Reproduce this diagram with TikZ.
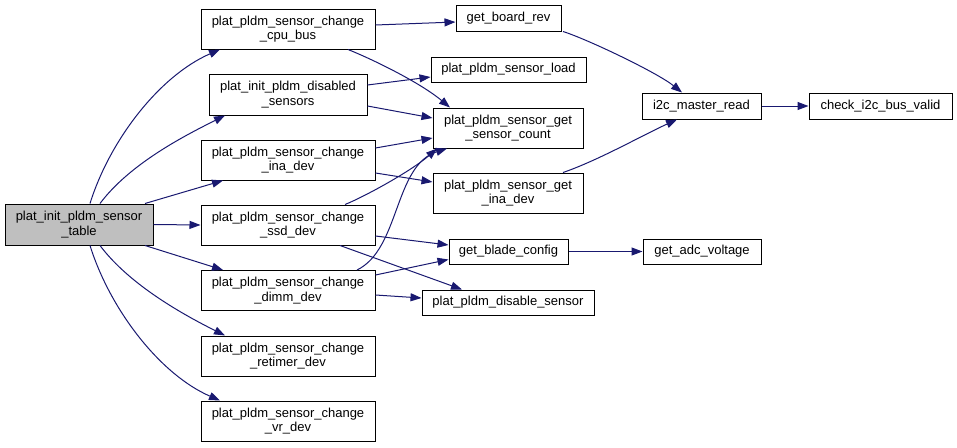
\documentclass[tikz,border=0pt]{standalone}
\usepackage{fontspec}
\setmainfont{Liberation Sans}
\usetikzlibrary{arrows.meta}
\definecolor{edgeblue}{HTML}{191970}
\definecolor{rootgray}{HTML}{BFBFBF}
\begin{document}
\begin{tikzpicture}[x=1pt,y=-1pt,
  box/.style={draw=black, line width=1pt, fill=white, inner sep=0pt, align=center,
    font=\fontsize{13}{14.5}\selectfont},
  edge/.style={draw=edgeblue, line width=1pt, -{Triangle[length=11pt,width=8pt]}}]
\useasboundingbox (0,0) rectangle (957,447);
% nodes
\node[box, fill=rootgray, minimum width=148pt, minimum height=41pt] (root) at (79,224.5) {plat\_init\_pldm\_sensor\\\_table};
\node[box, minimum width=174pt, minimum height=40pt] (cpu) at (288,29) {plat\_pldm\_sensor\_change\\\_cpu\_bus};
\node[box, minimum width=158pt, minimum height=41pt] (dis) at (288,94.5) {plat\_init\_pldm\_disabled\\\_sensors};
\node[box, minimum width=174pt, minimum height=40pt] (ina) at (288,160) {plat\_pldm\_sensor\_change\\\_ina\_dev};
\node[box, minimum width=174pt, minimum height=40pt] (ssd) at (288,225) {plat\_pldm\_sensor\_change\\\_ssd\_dev};
\node[box, minimum width=174pt, minimum height=40pt] (dimm) at (288,290.5) {plat\_pldm\_sensor\_change\\\_dimm\_dev};
\node[box, minimum width=174pt, minimum height=40pt] (ret) at (288,356) {plat\_pldm\_sensor\_change\\\_retimer\_dev};
\node[box, minimum width=174pt, minimum height=40pt] (vr) at (288,421) {plat\_pldm\_sensor\_change\\\_vr\_dev};
\node[box, minimum width=105pt, minimum height=26pt] (brev) at (508.5,18) {get\_board\_rev};
\node[box, minimum width=155pt, minimum height=25pt] (load) at (508.5,69.5) {plat\_pldm\_sensor\_load};
\node[box, minimum width=150pt, minimum height=40pt] (cnt) at (508,128) {plat\_pldm\_sensor\_get\\\_sensor\_count};
\node[box, minimum width=150pt, minimum height=40pt] (gina) at (508,193) {plat\_pldm\_sensor\_get\\\_ina\_dev};
\node[box, minimum width=119pt, minimum height=25pt] (blade) at (508.5,251.5) {get\_blade\_config};
\node[box, minimum width=172pt, minimum height=25pt] (dsen) at (508,302.5) {plat\_pldm\_disable\_sensor};
\node[box, minimum width=119pt, minimum height=26pt] (i2c) at (701.5,106) {i2c\_master\_read};
\node[box, minimum width=118pt, minimum height=25pt] (adc) at (702,251.5) {get\_adc\_voltage};
\node[box, minimum width=143pt, minimum height=26pt] (chk) at (880.5,106) {check\_i2c\_bus\_valid};
% edges from root
\draw[edge] ([xshift=11pt]root.north) .. controls +(20,-64) and +(-60,26) .. ([xshift=-68pt]cpu.south);
\draw[edge] ([xshift=21pt]root.north) .. controls +(30,-40) and +(-40,20) .. ([xshift=-63pt]dis.south);
\draw[edge] ([xshift=66pt]root.north) -- ([xshift=-65pt]ina.south);
\draw[edge] (root.east) -- (ssd.west);
\draw[edge] ([xshift=66pt]root.south) -- ([xshift=-65pt]dimm.north);
\draw[edge] ([xshift=21pt]root.south) .. controls +(30,40) and +(-40,-20) .. ([xshift=-63pt]ret.north);
\draw[edge] ([xshift=11pt]root.south) .. controls +(20,64) and +(-60,-26) .. ([xshift=-68pt]vr.north);
% column 2 edges
\draw[edge] ([yshift=4pt]cpu.east) -- ([yshift=-4pt]brev.west);
\draw[edge] ([xshift=60pt]cpu.south) .. controls +(25,10) and +(-30,-25) .. ([xshift=-58pt]cnt.north);
\draw[edge] ([yshift=9.5pt]dis.east) -- ([yshift=-7.5pt]load.west);
\draw[edge] ([yshift=-11.5pt]dis.east) -- ([yshift=10pt]cnt.west);
\draw[edge] ([yshift=12pt]ina.east) -- ([yshift=-10pt]cnt.west);
\draw[edge] ([yshift=-13pt]ina.east) -- ([yshift=11pt]gina.west);
\draw[edge] ([xshift=57pt]ssd.north) .. controls +(20,-8) and +(-25,22) .. ([xshift=-71pt]cnt.south);
\draw[edge] ([yshift=-11pt]ssd.east) -- ([yshift=6.5pt]blade.west);
\draw[edge] ([xshift=52pt]ssd.south) -- ([xshift=-46pt]dsen.north);
\draw[edge] ([xshift=69pt]dimm.north) .. controls +(43,-21) and +(-53,17) .. ([xshift=-61pt]cnt.south);
\draw[edge] ([yshift=15.5pt]dimm.east) -- ([yshift=-8pt]blade.west);
\draw[edge] ([yshift=-4.5pt]dimm.east) -- ([yshift=4.5pt]dsen.west);
% column 3 edges
\draw[edge] ([xshift=54.5pt]brev.south) .. controls +(25,8) and +(-25,-20) .. ([xshift=-19.5pt]i2c.north);
\draw[edge] ([xshift=55pt]gina.north) .. controls +(35,-12) and +(-35,16) .. ([xshift=-24.5pt]i2c.south);
\draw[edge] (i2c.east) -- (chk.west);
\draw[edge] (blade.east) -- (adc.west);
\end{tikzpicture}
\end{document}
